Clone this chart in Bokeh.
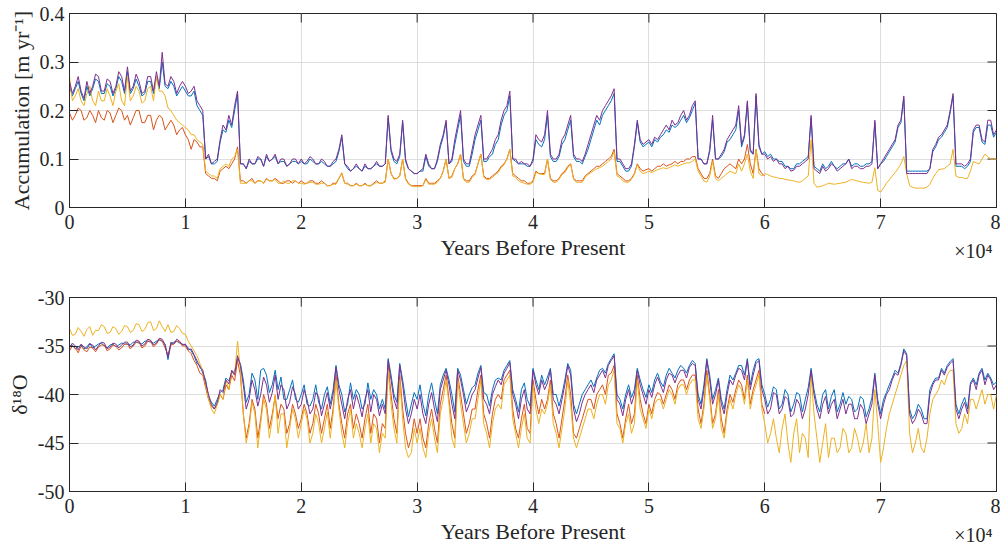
import numpy as np
from bokeh.plotting import figure
from bokeh.models import LinearAxis, Range1d, FixedTicker
from bokeh.layouts import column
from bokeh.embed import file_html
from bokeh.resources import INLINE

# ---------------- data ----------------
years = list(range(0, 80001, 250))          # years before present, 0 .. 80000
years_short = years[:241]                   # 0 .. 60000 (orange series)

# Accumulation [m/yr]
acc_purple = [
    0.26, 0.235, 0.25, 0.27, 0.24, 0.225, 0.26, 0.235, 0.25, 0.275, 0.27, 0.24, 0.24, 0.265, 0.26, 0.235, 0.25, 0.28, 0.27, 0.24,
    0.29, 0.24, 0.25, 0.275, 0.26, 0.235, 0.24, 0.27, 0.27, 0.24, 0.28, 0.25, 0.32, 0.255, 0.25, 0.27, 0.26, 0.235, 0.25, 0.26,
    0.25, 0.235, 0.24, 0.25, 0.22, 0.21, 0.20, 0.10, 0.11, 0.09, 0.095, 0.10, 0.14, 0.17, 0.16, 0.19, 0.17, 0.21, 0.24, 0.09,
    0.09, 0.08, 0.10, 0.09, 0.09, 0.105, 0.10, 0.085, 0.11, 0.095, 0.10, 0.11, 0.09, 0.10, 0.10, 0.085, 0.09, 0.10, 0.10, 0.09,
    0.10, 0.09, 0.095, 0.105, 0.10, 0.09, 0.09, 0.10, 0.095, 0.085, 0.085, 0.095, 0.10, 0.12, 0.15, 0.09, 0.085, 0.075, 0.08, 0.09,
    0.08, 0.075, 0.09, 0.08, 0.08, 0.085, 0.095, 0.085, 0.085, 0.09, 0.19, 0.12, 0.10, 0.095, 0.11, 0.18, 0.10, 0.08, 0.075, 0.07,
    0.07, 0.075, 0.08, 0.11, 0.09, 0.08, 0.08, 0.10, 0.13, 0.15, 0.18, 0.09, 0.10, 0.14, 0.17, 0.20, 0.10, 0.09, 0.09, 0.12,
    0.15, 0.17, 0.19, 0.10, 0.10, 0.11, 0.12, 0.14, 0.15, 0.18, 0.20, 0.21, 0.24, 0.10, 0.10, 0.09, 0.095, 0.09, 0.09, 0.085,
    0.10, 0.15, 0.14, 0.135, 0.15, 0.20, 0.11, 0.10, 0.10, 0.11, 0.14, 0.15, 0.17, 0.19, 0.11, 0.10, 0.10, 0.095, 0.11, 0.13,
    0.15, 0.17, 0.19, 0.18, 0.20, 0.21, 0.22, 0.23, 0.245, 0.10, 0.10, 0.09, 0.08, 0.08, 0.09, 0.13, 0.18, 0.14, 0.13, 0.135,
    0.14, 0.13, 0.145, 0.14, 0.15, 0.16, 0.17, 0.16, 0.18, 0.17, 0.175, 0.19, 0.20, 0.18, 0.19, 0.21, 0.22, 0.10, 0.10, 0.09,
    0.09, 0.12, 0.19, 0.10, 0.10, 0.11, 0.12, 0.14, 0.15, 0.16, 0.17, 0.21, 0.13, 0.15, 0.22, 0.12, 0.11, 0.235, 0.13, 0.11,
    0.11, 0.10, 0.105, 0.095, 0.10, 0.09, 0.09, 0.08, 0.085, 0.075, 0.077, 0.085, 0.085, 0.09, 0.095, 0.10, 0.19, 0.08, 0.075, 0.07,
    0.085, 0.075, 0.08, 0.09, 0.085, 0.075, 0.08, 0.085, 0.09, 0.10, 0.08, 0.085, 0.085, 0.08, 0.08, 0.085, 0.085, 0.09, 0.18, 0.08,
    0.09, 0.10, 0.11, 0.12, 0.13, 0.14, 0.17, 0.18, 0.23, 0.07, 0.07, 0.07, 0.07, 0.07, 0.07, 0.07, 0.07, 0.08, 0.12, 0.13,
    0.145, 0.15, 0.16, 0.17, 0.20, 0.235, 0.09, 0.09, 0.09, 0.085, 0.09, 0.10, 0.16, 0.17, 0.17, 0.14, 0.135, 0.18, 0.18, 0.15,
    0.16]
acc_blue = [
    0.25, 0.23, 0.245, 0.26, 0.235, 0.22, 0.25, 0.23, 0.245, 0.265, 0.26, 0.235, 0.235, 0.255, 0.25, 0.23, 0.245, 0.27, 0.26, 0.235,
    0.28, 0.235, 0.245, 0.265, 0.25, 0.23, 0.235, 0.26, 0.26, 0.235, 0.27, 0.245, 0.30, 0.25, 0.245, 0.26, 0.25, 0.23, 0.24, 0.25,
    0.24, 0.23, 0.23, 0.24, 0.21, 0.20, 0.19, 0.10, 0.105, 0.09, 0.09, 0.095, 0.135, 0.16, 0.155, 0.18, 0.165, 0.20, 0.235, 0.09,
    0.09, 0.08, 0.095, 0.09, 0.09, 0.10, 0.10, 0.085, 0.105, 0.095, 0.10, 0.105, 0.09, 0.095, 0.095, 0.085, 0.09, 0.095, 0.095, 0.09,
    0.095, 0.09, 0.09, 0.10, 0.095, 0.09, 0.09, 0.095, 0.09, 0.085, 0.085, 0.09, 0.095, 0.115, 0.145, 0.09, 0.08, 0.075, 0.08, 0.085,
    0.08, 0.075, 0.085, 0.08, 0.08, 0.085, 0.09, 0.085, 0.085, 0.09, 0.185, 0.115, 0.095, 0.09, 0.105, 0.175, 0.095, 0.08, 0.075, 0.07,
    0.07, 0.075, 0.075, 0.105, 0.085, 0.08, 0.08, 0.095, 0.125, 0.145, 0.175, 0.09, 0.095, 0.13, 0.16, 0.19, 0.095, 0.085, 0.085, 0.11,
    0.14, 0.16, 0.18, 0.095, 0.095, 0.105, 0.11, 0.13, 0.14, 0.17, 0.19, 0.20, 0.23, 0.10, 0.095, 0.09, 0.09, 0.09, 0.085, 0.085,
    0.095, 0.14, 0.13, 0.125, 0.14, 0.19, 0.105, 0.095, 0.095, 0.105, 0.13, 0.14, 0.16, 0.18, 0.105, 0.095, 0.095, 0.09, 0.105, 0.12,
    0.14, 0.16, 0.18, 0.17, 0.19, 0.20, 0.21, 0.22, 0.235, 0.095, 0.095, 0.085, 0.075, 0.075, 0.085, 0.125, 0.175, 0.135, 0.125, 0.13,
    0.135, 0.125, 0.14, 0.135, 0.145, 0.15, 0.16, 0.155, 0.17, 0.165, 0.17, 0.18, 0.19, 0.175, 0.185, 0.20, 0.215, 0.10, 0.10, 0.09,
    0.09, 0.115, 0.18, 0.10, 0.10, 0.105, 0.115, 0.135, 0.14, 0.15, 0.16, 0.20, 0.125, 0.145, 0.215, 0.115, 0.11, 0.23, 0.125, 0.11,
    0.115, 0.105, 0.11, 0.10, 0.10, 0.095, 0.095, 0.085, 0.085, 0.08, 0.08, 0.09, 0.09, 0.095, 0.10, 0.105, 0.185, 0.085, 0.08, 0.075,
    0.09, 0.08, 0.085, 0.095, 0.085, 0.08, 0.085, 0.09, 0.09, 0.10, 0.085, 0.09, 0.09, 0.085, 0.085, 0.09, 0.09, 0.095, 0.175, 0.08,
    0.09, 0.095, 0.105, 0.115, 0.125, 0.135, 0.165, 0.175, 0.225, 0.075, 0.075, 0.075, 0.075, 0.075, 0.075, 0.075, 0.075, 0.08, 0.115, 0.125,
    0.14, 0.145, 0.155, 0.165, 0.195, 0.23, 0.085, 0.085, 0.085, 0.08, 0.085, 0.095, 0.155, 0.165, 0.165, 0.135, 0.13, 0.17, 0.17, 0.145,
    0.155]
acc_orange = [
    0.195, 0.18, 0.19, 0.205, 0.20, 0.18, 0.185, 0.20, 0.19, 0.175, 0.20, 0.185, 0.18, 0.20, 0.195, 0.175, 0.19, 0.205, 0.20, 0.18,
    0.19, 0.17, 0.185, 0.20, 0.20, 0.175, 0.175, 0.19, 0.19, 0.16, 0.18, 0.19, 0.185, 0.16, 0.17, 0.18, 0.17, 0.15, 0.16, 0.165,
    0.15, 0.14, 0.12, 0.14, 0.135, 0.125, 0.125, 0.07, 0.065, 0.06, 0.06, 0.055, 0.075, 0.08, 0.085, 0.08, 0.09, 0.10, 0.125, 0.055,
    0.055, 0.05, 0.055, 0.06, 0.05, 0.055, 0.055, 0.05, 0.06, 0.055, 0.055, 0.06, 0.055, 0.05, 0.05, 0.055, 0.055, 0.05, 0.055, 0.05,
    0.055, 0.05, 0.05, 0.055, 0.055, 0.05, 0.05, 0.055, 0.05, 0.045, 0.045, 0.05, 0.05, 0.06, 0.07, 0.05, 0.05, 0.045, 0.045, 0.05,
    0.045, 0.045, 0.05, 0.045, 0.045, 0.05, 0.055, 0.05, 0.05, 0.055, 0.10, 0.07, 0.06, 0.06, 0.065, 0.10, 0.06, 0.05, 0.045, 0.045,
    0.045, 0.045, 0.045, 0.06, 0.05, 0.05, 0.05, 0.055, 0.06, 0.075, 0.10, 0.06, 0.065, 0.08, 0.09, 0.11, 0.06, 0.055, 0.055, 0.065,
    0.07, 0.09, 0.11, 0.065, 0.06, 0.06, 0.065, 0.07, 0.075, 0.085, 0.09, 0.10, 0.12, 0.07, 0.065, 0.06, 0.055, 0.055, 0.05, 0.05,
    0.055, 0.075, 0.07, 0.07, 0.07, 0.10, 0.06, 0.055, 0.055, 0.06, 0.07, 0.075, 0.085, 0.09, 0.06, 0.055, 0.055, 0.055, 0.065, 0.07,
    0.075, 0.08, 0.085, 0.085, 0.09, 0.095, 0.10, 0.105, 0.12, 0.07, 0.065, 0.06, 0.055, 0.055, 0.06, 0.07, 0.09, 0.08, 0.075, 0.078,
    0.08, 0.075, 0.08, 0.085, 0.085, 0.09, 0.085, 0.088, 0.09, 0.095, 0.09, 0.095, 0.095, 0.10, 0.10, 0.105, 0.105, 0.08, 0.07, 0.06,
    0.06, 0.07, 0.10, 0.065, 0.06, 0.07, 0.08, 0.085, 0.09, 0.085, 0.08, 0.10, 0.09, 0.10, 0.13, 0.09, 0.07, 0.12, 0.08, 0.07,
    0.065]
acc_yellow = [
    0.27, 0.22, 0.23, 0.245, 0.22, 0.21, 0.235, 0.25, 0.22, 0.21, 0.24, 0.22, 0.22, 0.245, 0.23, 0.21, 0.24, 0.255, 0.22, 0.21,
    0.27, 0.22, 0.23, 0.25, 0.24, 0.215, 0.22, 0.245, 0.25, 0.22, 0.27, 0.24, 0.24, 0.23, 0.205, 0.20, 0.19, 0.18, 0.175, 0.17,
    0.165, 0.16, 0.15, 0.15, 0.14, 0.135, 0.13, 0.075, 0.07, 0.065, 0.065, 0.06, 0.08, 0.085, 0.09, 0.085, 0.10, 0.105, 0.12, 0.05,
    0.05, 0.05, 0.055, 0.055, 0.05, 0.055, 0.055, 0.05, 0.058, 0.055, 0.055, 0.058, 0.05, 0.05, 0.055, 0.05, 0.05, 0.055, 0.055, 0.05,
    0.05, 0.048, 0.05, 0.052, 0.052, 0.048, 0.048, 0.05, 0.05, 0.045, 0.045, 0.048, 0.048, 0.06, 0.072, 0.05, 0.048, 0.045, 0.045, 0.048,
    0.045, 0.045, 0.048, 0.045, 0.045, 0.048, 0.052, 0.05, 0.05, 0.052, 0.10, 0.07, 0.058, 0.06, 0.065, 0.10, 0.058, 0.048, 0.045, 0.043,
    0.043, 0.043, 0.045, 0.058, 0.048, 0.048, 0.048, 0.052, 0.06, 0.075, 0.10, 0.06, 0.062, 0.08, 0.09, 0.11, 0.058, 0.052, 0.052, 0.062,
    0.068, 0.09, 0.11, 0.062, 0.058, 0.058, 0.062, 0.068, 0.072, 0.082, 0.088, 0.10, 0.12, 0.065, 0.062, 0.055, 0.052, 0.05, 0.048, 0.048,
    0.052, 0.072, 0.07, 0.068, 0.068, 0.10, 0.058, 0.052, 0.052, 0.058, 0.068, 0.072, 0.082, 0.09, 0.058, 0.052, 0.052, 0.052, 0.062, 0.068,
    0.072, 0.076, 0.08, 0.082, 0.085, 0.09, 0.095, 0.10, 0.115, 0.065, 0.062, 0.055, 0.052, 0.052, 0.058, 0.068, 0.088, 0.075, 0.07, 0.072,
    0.075, 0.072, 0.075, 0.078, 0.08, 0.082, 0.08, 0.082, 0.085, 0.088, 0.085, 0.088, 0.09, 0.092, 0.092, 0.095, 0.10, 0.075, 0.065, 0.055,
    0.052, 0.065, 0.095, 0.06, 0.055, 0.06, 0.065, 0.07, 0.075, 0.072, 0.07, 0.09, 0.075, 0.09, 0.11, 0.075, 0.06, 0.12, 0.07, 0.065,
    0.07, 0.068, 0.065, 0.063, 0.062, 0.06, 0.06, 0.058, 0.057, 0.056, 0.055, 0.053, 0.052, 0.055, 0.06, 0.065, 0.14, 0.05, 0.042, 0.043,
    0.045, 0.047, 0.05, 0.049, 0.048, 0.049, 0.05, 0.051, 0.052, 0.055, 0.058, 0.056, 0.055, 0.053, 0.052, 0.051, 0.05, 0.052, 0.082, 0.035,
    0.032, 0.04, 0.05, 0.057, 0.065, 0.072, 0.08, 0.09, 0.105, 0.07, 0.045, 0.042, 0.04, 0.04, 0.04, 0.04, 0.042, 0.048, 0.06, 0.07,
    0.078, 0.079, 0.08, 0.085, 0.09, 0.12, 0.065, 0.062, 0.062, 0.06, 0.06, 0.075, 0.095, 0.092, 0.09, 0.10, 0.11, 0.105, 0.10, 0.10,
    0.10]

# delta 18O
d18_purple = [
    -35.2, -34.7, -35.0, -35.4, -34.8, -35.1, -35.3, -34.8, -34.9, -35.4, -35.0, -34.6, -34.7, -35.3, -35.1, -34.7, -34.8, -35.2, -34.9, -34.6,
    -34.6, -35.1, -34.9, -34.4, -34.5, -35.0, -34.8, -34.3, -34.4, -34.9, -34.7, -34.2, -34.3, -34.9, -36.2, -34.6, -34.8, -34.3, -34.5, -34.9,
    -34.8, -35.4, -35.3, -35.9, -36.5, -37.2, -37.5, -38.8, -40.0, -41.0, -41.5, -40.8, -39.5, -39.8, -38.5, -38.9, -37.5, -38.0, -36.0, -37.0,
    -39.0, -41.5, -40.5, -38.5, -39.5, -41.2, -40.0, -38.2, -39.0, -40.8, -39.8, -38.0, -40.5, -39.0, -39.5, -41.5, -40.8, -39.2, -40.0, -41.5,
    -41.0, -39.5, -40.5, -42.0, -41.5, -39.8, -40.2, -42.2, -41.0, -39.8, -41.5, -40.0, -37.2, -39.5, -41.0, -42.5, -40.5, -39.5, -41.5, -40.0,
    -41.0, -42.3, -40.5, -39.5, -41.8, -40.0, -40.5, -42.2, -41.0, -42.0, -36.5, -38.5, -40.5, -41.5, -37.0, -39.0, -41.5, -43.0, -42.0, -40.5,
    -41.5, -40.0, -42.0, -43.0, -41.0, -39.8, -41.5, -42.8, -39.5, -38.5, -37.5, -39.0, -41.0, -42.5, -37.5, -38.5, -40.0, -41.8, -41.0, -40.0,
    -39.5, -38.3, -37.2, -40.5, -41.0, -42.0, -40.0, -39.2, -38.5, -39.0, -37.8, -37.3, -36.7, -40.0, -41.0, -42.5, -40.5, -39.5, -41.5, -42.0,
    -37.5, -39.0, -40.0, -38.5, -39.5, -38.8, -37.5, -40.5, -41.0, -42.0, -40.5, -39.0, -37.0, -38.0, -41.5, -42.8, -42.0, -40.8, -40.0, -39.5,
    -39.0, -39.8, -38.5, -38.0, -37.5, -38.3, -37.0, -36.5, -36.0, -40.5, -41.0, -42.2, -40.5, -39.5, -41.0, -40.0, -37.5, -39.0, -40.0, -41.0,
    -39.5, -40.3, -39.0, -38.2, -39.0, -39.8, -38.5, -37.8, -38.0, -38.8, -38.0, -37.5, -37.5, -38.3, -37.2, -36.8, -37.0, -40.5, -41.5, -39.5,
    -36.5, -38.5, -41.0, -40.0, -38.5, -41.0, -42.0, -40.0, -38.5, -39.0, -38.0, -37.3, -37.5, -38.5, -36.5, -39.5, -38.0, -36.8, -36.5, -39.5,
    -40.5, -42.0, -41.5, -39.8, -40.0, -42.0, -41.5, -40.2, -40.5, -42.3, -42.0, -40.5, -41.0, -42.5, -41.5, -40.0, -37.5, -40.0, -41.5, -42.5,
    -41.0, -40.2, -42.0, -41.0, -40.5, -42.5, -41.5, -40.5, -42.0, -41.0, -41.0, -42.5, -42.5, -41.0, -41.5, -43.0, -42.0, -41.0, -38.0, -41.0,
    -42.5, -41.0, -40.0, -39.5, -38.5, -37.8, -38.0, -37.0, -35.5, -36.0, -42.0, -43.0, -42.5, -41.5, -42.0, -43.0, -43.0, -40.0, -39.0, -38.5,
    -38.5, -37.5, -38.0, -37.2, -36.8, -36.5, -41.5, -42.5, -41.5, -40.8, -42.0, -39.0, -38.5, -39.5, -38.0, -37.5, -39.0, -38.0, -38.5, -39.5,
    -39.0]
d18_blue = [
    -35.0, -34.9, -35.3, -35.1, -34.9, -35.3, -35.1, -34.7, -35.2, -35.0, -34.8, -34.7, -35.0, -35.2, -34.9, -34.8, -35.1, -34.9, -34.7, -34.8,
    -34.8, -34.9, -34.6, -34.6, -34.7, -34.8, -34.5, -34.5, -34.6, -34.7, -34.5, -34.4, -34.5, -34.8, -36.4, -34.8, -34.6, -34.5, -34.7, -34.8,
    -34.9, -35.2, -35.5, -36.0, -36.8, -37.0, -37.8, -38.5, -40.3, -40.8, -41.2, -40.5, -39.8, -39.5, -38.3, -38.6, -37.8, -37.6, -36.3, -36.8,
    -38.5, -40.8, -40.0, -37.8, -38.5, -40.5, -37.5, -37.3, -38.0, -39.8, -39.0, -37.5, -39.5, -38.2, -40.5, -40.5, -39.5, -38.5, -40.5, -40.8,
    -40.0, -39.0, -41.0, -41.2, -40.5, -39.0, -40.8, -41.5, -40.0, -39.2, -41.0, -39.5, -37.0, -39.0, -40.0, -41.8, -41.0, -38.8, -40.5, -39.5,
    -40.0, -41.5, -41.0, -38.8, -40.5, -39.5, -40.0, -41.5, -40.5, -41.5, -36.3, -38.0, -40.0, -40.8, -36.8, -38.5, -40.5, -42.3, -41.0, -39.8,
    -40.5, -39.0, -41.0, -42.2, -40.0, -38.8, -40.5, -42.0, -39.0, -38.0, -37.3, -38.5, -40.0, -41.8, -37.3, -38.0, -39.5, -41.0, -40.0, -39.3,
    -39.0, -37.8, -37.0, -39.8, -40.0, -41.2, -39.5, -38.5, -38.3, -38.5, -37.5, -37.0, -36.5, -39.5, -40.5, -41.8, -39.5, -38.8, -40.5, -41.2,
    -37.3, -38.5, -39.5, -38.0, -39.0, -38.2, -37.3, -40.0, -40.0, -41.2, -40.0, -38.5, -36.8, -37.5, -41.0, -42.0, -41.0, -40.0, -39.5, -39.0,
    -38.5, -39.2, -38.3, -37.5, -37.3, -37.8, -36.8, -36.3, -35.8, -40.0, -40.5, -41.5, -40.0, -39.0, -40.3, -39.5, -37.3, -38.5, -39.5, -40.3,
    -39.0, -39.8, -38.5, -37.8, -38.7, -39.2, -38.0, -37.3, -37.8, -38.3, -37.5, -37.0, -37.3, -37.8, -37.0, -36.5, -36.8, -40.0, -41.0, -39.0,
    -36.3, -38.0, -40.5, -39.5, -38.3, -40.5, -41.5, -39.5, -38.0, -38.5, -37.8, -37.0, -37.0, -38.0, -36.3, -39.0, -37.5, -36.5, -36.3, -39.0,
    -40.0, -41.3, -40.5, -39.2, -39.5, -41.5, -41.0, -39.5, -40.0, -41.8, -41.0, -39.8, -40.0, -41.8, -40.5, -39.3, -37.3, -39.5, -41.0, -41.8,
    -40.0, -39.5, -41.5, -40.2, -39.5, -41.8, -41.0, -39.8, -41.0, -40.2, -40.5, -41.8, -41.5, -40.2, -40.5, -42.3, -41.5, -40.3, -37.8, -40.5,
    -42.0, -40.5, -39.8, -39.0, -38.3, -37.5, -37.8, -36.8, -35.3, -35.8, -41.5, -42.5, -42.0, -41.0, -41.5, -42.5, -42.5, -39.5, -38.8, -38.3,
    -38.3, -37.3, -37.8, -37.0, -36.6, -36.3, -41.0, -42.0, -41.0, -40.3, -41.5, -38.8, -38.3, -39.0, -37.8, -37.3, -38.5, -37.8, -38.3, -39.0,
    -38.7]
d18_orange = [
    -35.5, -35.0, -35.2, -35.7, -35.0, -35.4, -35.6, -35.1, -35.2, -35.6, -35.1, -34.9, -34.9, -35.5, -35.3, -34.9, -35.0, -35.4, -35.2, -34.8,
    -34.8, -35.3, -35.0, -34.6, -34.6, -35.2, -35.0, -34.5, -34.5, -35.1, -34.8, -34.3, -34.5, -35.2, -35.9, -34.9, -34.8, -34.5, -34.6, -35.0,
    -35.0, -35.5, -35.8, -36.5, -37.0, -37.8, -38.0, -39.3, -40.5, -41.2, -41.5, -41.0, -40.0, -40.5, -39.0, -39.5, -38.0, -38.6, -36.5, -38.0,
    -42.0, -44.5, -43.0, -40.5, -41.5, -44.5, -42.5, -40.0, -41.0, -43.5, -42.0, -40.2, -42.5, -41.0, -41.5, -44.0, -43.0, -41.0, -42.0, -43.5,
    -42.5, -41.0, -42.0, -44.0, -43.0, -41.0, -42.0, -44.0, -42.5, -41.0, -43.5, -41.5, -38.0, -41.0, -43.0, -44.5, -42.0, -41.0, -43.5, -42.0,
    -43.0, -44.5, -42.5, -41.0, -44.0, -42.0, -42.5, -45.0, -43.0, -43.5, -37.0, -40.0, -42.5, -44.0, -38.0, -41.5, -44.0, -45.5, -44.5, -42.5,
    -44.0, -42.5, -44.5, -45.5, -43.0, -41.5, -43.5, -45.0, -41.0, -39.5, -38.0, -40.5, -43.0, -44.5, -38.0, -40.0, -42.0, -44.0, -43.0, -41.5,
    -41.5, -39.5, -38.0, -42.0, -43.0, -44.5, -42.0, -40.5, -40.0, -40.5, -38.5, -38.0, -37.5, -41.5, -43.5, -44.5, -42.5, -41.0, -43.5, -44.0,
    -38.5, -40.5, -42.0, -40.5, -41.5, -40.5, -38.5, -42.0, -43.0, -44.5, -42.5, -40.5, -38.0, -40.0, -44.0, -44.5, -43.5, -42.5, -41.5, -40.5,
    -40.5, -41.5, -40.0, -39.5, -39.0, -40.0, -38.0, -37.8, -37.0, -42.0, -43.0, -44.5, -42.5, -41.0, -43.0, -42.0, -38.0, -40.5, -42.0, -43.0,
    -41.0, -42.0, -40.5, -39.8, -40.0, -41.0, -40.0, -39.0, -39.5, -40.5, -39.0, -38.5, -38.5, -39.5, -38.5, -38.0, -38.0, -41.5, -43.0, -41.0,
    -37.5, -40.0, -43.0, -42.0, -39.5, -42.5, -44.0, -41.5, -40.0, -40.8, -39.5, -38.5, -39.0, -40.5, -38.0, -41.0, -39.5, -38.5, -37.5, -41.0,
    -42.0]
d18_yellow = [
    -33.2, -33.9, -33.8, -33.1, -33.5, -34.0, -33.3, -33.0, -33.9, -33.4, -33.4, -32.8, -33.0, -33.7, -33.6, -33.0, -33.2, -33.8, -33.5, -32.9,
    -33.0, -33.6, -33.4, -32.7, -32.8, -33.5, -33.3, -32.6, -32.5, -33.4, -33.2, -32.4, -33.0, -33.5, -32.8, -33.6, -33.5, -32.9, -33.2, -33.7,
    -33.8, -34.5, -35.0, -35.5, -36.0, -36.8, -37.5, -39.0, -40.5, -41.5, -42.0, -41.0, -40.0, -40.5, -38.5, -39.5, -37.5, -38.0, -34.5, -37.5,
    -42.0, -45.0, -43.5, -40.8, -42.0, -45.5, -43.0, -40.5, -41.5, -44.5, -42.5, -40.0, -44.0, -42.0, -42.0, -45.5, -43.5, -41.5, -42.5, -44.5,
    -43.0, -41.5, -42.5, -45.0, -44.0, -42.0, -43.0, -45.0, -43.5, -41.8, -44.5, -42.0, -38.5, -41.5, -44.0, -45.5, -43.0, -41.5, -44.5, -43.0,
    -44.0, -45.5, -43.5, -42.0, -45.0, -43.0, -43.5, -46.0, -44.0, -44.5, -37.5, -41.0, -43.5, -45.0, -38.5, -42.5, -45.5, -46.5, -46.0, -43.5,
    -45.0, -43.5, -45.5, -46.5, -44.0, -42.5, -44.5, -46.0, -42.0, -40.5, -38.5, -41.0, -44.5, -45.5, -38.5, -41.0, -43.0, -45.0, -44.0, -42.5,
    -42.5, -40.5, -38.5, -43.0, -44.0, -45.5, -43.0, -41.5, -41.0, -41.5, -39.0, -38.5, -38.0, -42.5, -44.0, -45.5, -43.5, -42.0, -44.5, -45.0,
    -39.0, -41.5, -43.0, -41.5, -42.0, -41.0, -39.0, -43.0, -44.0, -45.5, -43.5, -41.5, -38.5, -41.0, -44.5, -45.5, -44.5, -43.5, -42.5, -41.5,
    -41.5, -42.5, -41.0, -40.0, -40.0, -41.0, -39.0, -38.5, -37.5, -43.0, -43.5, -45.0, -43.0, -42.0, -44.0, -43.0, -38.5, -41.5, -42.5, -43.5,
    -41.5, -42.5, -41.0, -40.5, -40.5, -41.5, -40.5, -39.5, -40.0, -41.0, -39.5, -39.0, -39.0, -40.0, -39.0, -38.5, -38.5, -42.5, -43.5, -41.5,
    -38.0, -40.5, -43.5, -42.5, -40.0, -43.5, -44.5, -42.0, -40.5, -41.5, -40.0, -39.0, -39.5, -41.0, -38.5, -41.5, -40.0, -39.0, -38.0, -41.5,
    -43.0, -45.0, -44.0, -42.5, -44.5, -46.0, -43.5, -42.0, -45.0, -47.0, -44.0, -42.5, -46.0, -44.0, -44.5, -46.5, -38.0, -42.0, -44.5, -47.0,
    -45.0, -43.0, -46.5, -44.5, -44.5, -46.0, -45.5, -43.5, -44.0, -46.0, -45.5, -43.5, -44.5, -46.0, -45.0, -43.0, -46.0, -44.5, -39.5, -43.0,
    -47.0, -45.5, -43.5, -42.0, -41.0, -40.0, -39.0, -38.0, -37.0, -36.5, -44.0, -46.0, -45.0, -43.5, -45.5, -46.0, -44.5, -42.0, -40.5, -40.0,
    -39.5, -38.5, -39.0, -38.0, -37.5, -37.5, -43.0, -44.0, -43.5, -42.0, -43.0, -40.5, -40.5, -41.5, -40.5, -39.5, -41.0, -40.0, -40.0, -41.5,
    -40.0]

x_ticks = [0, 1, 2, 3, 4, 5, 6, 7, 8]
acc_ticks = [0, 0.1, 0.2, 0.3, 0.4]
acc_tick_labels = ["0", "0.1", "0.2", "0.3", "0.4"]
d18_ticks = [-50, -45, -40, -35, -30]
d18_tick_labels = ["-50", "-45", "-40", "-35", "-30"]
exponent_label = "\u00d710\u2074"
exponent_pos = 7.8

# ---------------- styling ----------------
FONT = "Liberation Serif"
INK = "#262626"
C_BLUE, C_ORANGE, C_YELLOW, C_PURPLE = "#0072BD", "#D95319", "#EDB120", "#7E2F8E"
W = 1000
FRAME_H = 194
TICK = 9


def style_axis(ax):
    ax.axis_line_color = INK
    ax.axis_line_width = 1
    ax.major_tick_line_color = INK
    ax.major_tick_line_width = 1
    ax.major_tick_in = TICK
    ax.major_tick_out = 0
    ax.minor_tick_line_color = None
    ax.major_label_text_font = FONT
    ax.major_label_text_font_size = "20px"
    ax.major_label_text_color = INK
    ax.axis_label_text_font = FONT
    ax.axis_label_text_font_size = "22px"
    ax.axis_label_text_font_style = "normal"
    ax.axis_label_text_color = INK


def make_fig(height, b_top, b_bottom, yr, yticks, ylabels, ylabel):
    p = figure(width=W, height=height, x_range=Range1d(0, 8),
               y_range=Range1d(*yr), output_backend="svg",
               toolbar_location=None, min_border_left=69, min_border_right=4,
               min_border_top=b_top, min_border_bottom=b_bottom)
    p.outline_line_color = INK
    p.outline_line_width = 1
    p.background_fill_color = "white"
    p.border_fill_color = "white"

    bx = p.xaxis[0]
    style_axis(bx)
    bx.ticker = FixedTicker(ticks=x_ticks)
    bx.major_label_standoff = 7

    # second (label-only) axis below: exponent + axis title on one line
    ex = LinearAxis(ticker=FixedTicker(ticks=[exponent_pos]))
    style_axis(ex)
    ex.axis_line_color = None
    ex.major_tick_line_color = None
    ex.major_tick_in = 0
    ex.major_label_standoff = 8
    ex.major_label_overrides = {exponent_pos: exponent_label}
    ex.axis_label = "Years Before Present"
    ex.axis_label_standoff = -30
    p.add_layout(ex, "below")

    ly = p.yaxis[0]
    style_axis(ly)
    ly.ticker = FixedTicker(ticks=yticks)
    ly.major_label_standoff = 5
    ly.axis_label = ylabel
    ly.axis_label_standoff = 3
    ly.major_label_overrides = {t: s for t, s in zip(yticks, ylabels)}

    p.xgrid.grid_line_color = "#dedede"
    p.ygrid.grid_line_color = "#dedede"
    p.xgrid.ticker = FixedTicker(ticks=x_ticks)
    p.ygrid.ticker = FixedTicker(ticks=yticks)

    # inward tick marks on the top and right edges of the box
    ylo, yhi = yr
    dy = TICK * (yhi - ylo) / FRAME_H
    dx = TICK * 8.0 / (W - 69 - 4)
    p.segment(x0=x_ticks, y0=[yhi] * len(x_ticks), x1=x_ticks,
              y1=[yhi - dy] * len(x_ticks), color=INK, line_width=1)
    p.segment(x0=[8.0] * len(yticks), y0=yticks, x1=[8.0 - dx] * len(yticks),
              y1=yticks, color=INK, line_width=1)
    return p


x_all = np.array(years) / 1e4
x_short = np.array(years_short) / 1e4

p1 = make_fig(277, 13, 70, (0, 0.4), acc_ticks, acc_tick_labels,
              "Accumulation [m yr\u207b\u00b9]")
p1.line(x_all, acc_blue, color=C_BLUE, line_width=1)
p1.line(x_short, acc_orange, color=C_ORANGE, line_width=1)
p1.line(x_all, acc_yellow, color=C_YELLOW, line_width=1)
p1.line(x_all, acc_purple, color=C_PURPLE, line_width=1)

p2 = make_fig(272, 20, 58, (-50, -30), d18_ticks, d18_tick_labels,
              "\u03b4\u00b9\u2078O")
p2.line(x_all, d18_blue, color=C_BLUE, line_width=1)
p2.line(x_short, d18_orange, color=C_ORANGE, line_width=1)
p2.line(x_all, d18_yellow, color=C_YELLOW, line_width=1)
p2.line(x_all, d18_purple, color=C_PURPLE, line_width=1)

layout = column(p1, p2, spacing=0)
open("out.html", "w").write(file_html(layout, INLINE))
